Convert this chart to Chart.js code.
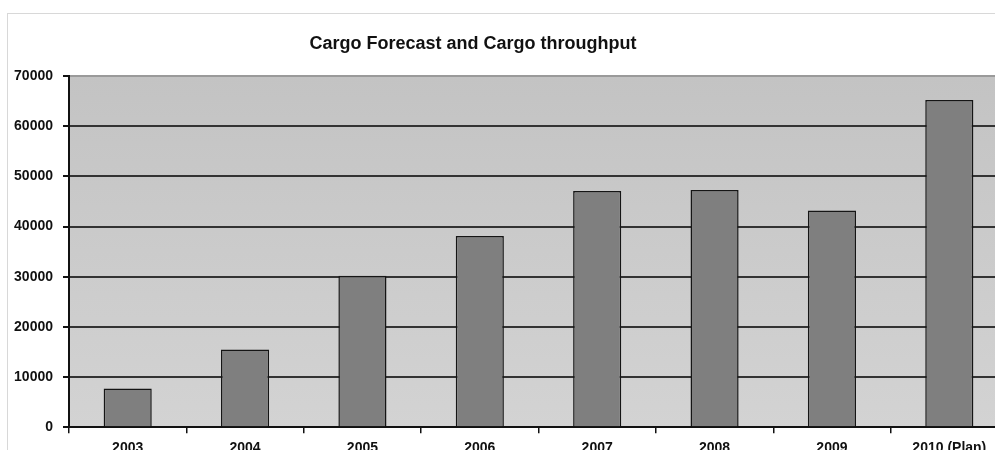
<!DOCTYPE html>
<html>
<head>
<meta charset="utf-8">
<title>Cargo Forecast and Cargo throughput</title>
<script src="https://cdn.jsdelivr.net/npm/chart.js@4/dist/chart.umd.min.js"></script>
<style>
  html, body { margin: 0; padding: 0; background: #fff; overflow: hidden; }
  #wrap { position: relative; width: 995px; height: 450px; overflow: hidden; }
  #frame { position: absolute; left: 7px; top: 13px; width: 1000px; height: 500px;
           border: 1px solid #d8d8d8; box-sizing: border-box; }
  #cargo-chart { position: absolute; left: 0; top: 0; }
</style>
</head>
<body>
<div id="wrap">
  <div id="frame"></div>
  <canvas id="cargo-chart" width="1010" height="464"></canvas>
</div>
<script>
const years = ['2003', '2004', '2005', '2006', '2007', '2008', '2009', '2010 (Plan)']
const cargo = [7700, 15500, 30200, 38100, 47100, 47300, 43200, 65200]
const yTicks = [0, 10000, 20000, 30000, 40000, 50000, 60000, 70000]

const chartTitle = 'Cargo Forecast and Cargo throughput'
const fontFamily = '"Liberation Sans", Arial, Helvetica, sans-serif'

// grey plot background + title (title sits off-centre in the original)
const plotBackground = {
  id: 'plotBackground',
  beforeDraw(chart) {
    const { ctx, chartArea: a } = chart
    const g = ctx.createLinearGradient(0, a.top, 0, a.bottom)
    g.addColorStop(0, '#c3c3c3')
    g.addColorStop(1, '#d3d3d3')
    ctx.save()
    ctx.fillStyle = g
    ctx.fillRect(a.left, a.top, a.right - a.left, a.bottom - a.top)
    ctx.restore()
  },
  afterDraw(chart) {
    const ctx = chart.ctx
    ctx.save()
    ctx.font = 'bold 18px ' + fontFamily
    ctx.fillStyle = '#111'
    ctx.textAlign = 'center'
    ctx.textBaseline = 'middle'
    ctx.fillText(chartTitle, 473, 44)
    ctx.restore()
  }
}

new Chart(document.getElementById('cargo-chart'), {
  type: 'bar',
  data: {
    labels: years,
    datasets: [{
      label: 'Cargo throughput',
      data: cargo,
      backgroundColor: '#7f7f7f',
      borderColor: '#151515',
      borderWidth: 1.5,
      borderSkipped: 'bottom',
      barPercentage: 0.41,
      categoryPercentage: 1.0
    }]
  },
  options: {
    responsive: false,
    animation: false,
    layout: { padding: { top: 76, left: 0, right: 2, bottom: 0 } },
    plugins: {
      legend: { display: false },
      title: { display: false },
      tooltip: { enabled: false }
    },
    scales: {
      x: {
        offset: true,
        grid: {
          offset: true,
          drawOnChartArea: false,
          drawTicks: true,
          tickLength: 6,
          color: '#111',
          lineWidth: 1.5
        },
        border: { color: '#111', width: 2 },
        ticks: {
          color: '#111',
          padding: 7,
          maxRotation: 0,
          autoSkip: false,
          font: { family: fontFamily, size: 14, weight: 'bold' }
        }
      },
      y: {
        min: 0,
        max: 70000,
        afterFit(scale) { scale.width = 69 },
        afterBuildTicks(scale) { scale.ticks = yTicks.map(v => ({ value: v })) },
        grid: {
          drawTicks: true,
          tickLength: 6,
          tickColor: '#111',
          lineWidth: 2,
          color: ctx => (ctx.tick && ctx.tick.value === 70000) ? '#9a9a9a' : '#333'
        },
        border: { color: '#111', width: 2 },
        ticks: {
          color: '#111',
          padding: 10,
          callback: v => String(v),
          font: { family: fontFamily, size: 14, weight: 'bold' }
        }
      }
    }
  },
  plugins: [plotBackground]
})
</script>
</body>
</html>
